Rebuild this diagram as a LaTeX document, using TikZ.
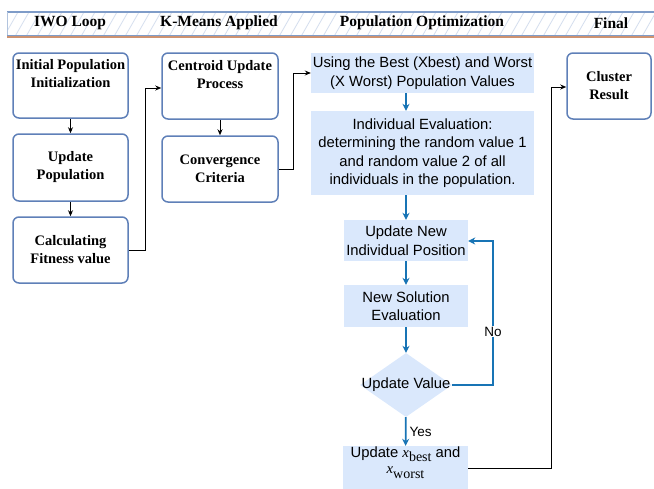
\documentclass[tikz,border=0pt]{standalone}
\usepackage{fontspec}
\setmainfont{Liberation Serif}
\setsansfont{Liberation Sans}
\usetikzlibrary{arrows.meta,shapes.geometric}
\definecolor{hdrblue}{RGB}{127,156,200}
\definecolor{hatchc}{RGB}{212,222,238}
\definecolor{hdrorange}{RGB}{190,110,65}
\definecolor{rborder}{RGB}{95,128,184}
\definecolor{lfill}{RGB}{218,232,252}
\definecolor{ablue}{RGB}{24,116,181}
\newcommand{\xsub}[1]{{\rmfamily\itshape x}\raisebox{-4.5pt}{\rmfamily\fontsize{14}{14}\selectfont #1}}
\tikzset{
  rbox/.style={draw=rborder, line width=1.5pt, rounded corners=6pt, fill=white,
    minimum width=115pt, align=center, inner sep=0pt,
    font=\fontsize{14.5}{18}\selectfont\bfseries},
  lbox/.style={fill=lfill, align=center, inner sep=0pt,
    font=\sffamily\fontsize{14.8}{18.5}\selectfont},
  hdr/.style={font=\fontsize{15.5}{18}\selectfont\bfseries, inner sep=0pt},
  karr/.style={draw=black, line width=0.9pt, -{Stealth[length=6pt,width=5pt]}},
  barr/.style={draw=ablue, line width=1.8pt, -{Stealth[length=7pt,width=7pt]}},
  lbl/.style={font=\sffamily\fontsize{13.5}{15}\selectfont, inner sep=1pt}
}
\begin{document}
\begin{tikzpicture}[x=1pt,y=-1pt]
\useasboundingbox (0,0) rectangle (654,488);
% header band
\begin{scope}
\clip (7,12) rectangle (654,35);
\fill[white] (7,12) rectangle (654,35);
\foreach \i in {-20,-9,...,680} \draw[hatchc, line width=0.8pt] (\i,40) -- (\i+20,5);
\end{scope}
\draw[hdrorange!75, line width=1.6pt] (7,36.8) -- (654,36.8);
\draw[hdrblue, line width=1.6pt] (7,12) -- (654,12);
\draw[hdrblue, line width=0.8pt] (7,35) -- (654,35);
\draw[hdrblue!60, line width=0.8pt] (7,12) -- (7,35);
\node[hdr] (h1) at (70,23) {IWO Loop};
\node[hdr] (h2) at (219,23) {K-Means Applied};
\node[hdr] (h3) at (422,23) {Population Optimization};
\node[hdr] (h4) at (611,23) {Final};
% IWO column
\node[rbox, minimum height=65pt] (init) at (70.5,85.5) {Initial Population\\Initialization\\\strut};
\node[rbox, minimum height=67pt] (upd) at (70.5,167.5) {Update\\Population};
\node[rbox, minimum height=66pt] (calc) at (70.5,250) {Calculating\\Fitness value};
% K-means column
\node[rbox, minimum width=116pt, minimum height=66pt] (cent) at (220,86) {Centroid Update\\Process\\\strut};
\node[rbox, minimum width=116pt, minimum height=66pt] (conv) at (220,169) {Convergence\\Criteria};
% Population optimization column
\node[lbox, minimum width=223pt, minimum height=40pt] (using) at (422.5,73) {Using the Best (Xbest) and Worst\\(X Worst) Population Values};
\node[lbox, minimum width=223pt, minimum height=84pt] (indiv) at (422.5,153) {Individual Evaluation:\\determining the random value 1\\and random value 2 of all\\individuals in the population.};
\node[lbox, minimum width=124pt, minimum height=41pt] (unew) at (406,240.5) {Update New\\Individual Position};
\node[lbox, minimum width=124pt, minimum height=42pt] (nsol) at (406,306) {New Solution\\Evaluation};
\node[diamond, fill=lfill, minimum width=92pt, minimum height=64pt, inner sep=0pt] (dia) at (406,385) {};
\node[lbox, fill=none] (diat) at (406,385) {Update Value};
\node[lbox, minimum width=125pt, minimum height=43pt] (upbest) at (405.5,467.5) {Update \xsub{best} and\\[-2pt]\xsub{worst}\\[-4pt]};
% Final
\node[rbox, minimum width=84pt, minimum height=66pt] (clus) at (609,86) {Cluster\\Result};
% black connectors
\draw[karr] (init) -- (upd);
\draw[karr] (upd) -- (calc);
\draw[karr] (cent) -- (conv);
\coordinate (c1) at (145,250);
\coordinate (c2) at (145,88);
\draw[karr] (calc.east) -- (c1) -- (c2) -- (cent.west |- c2);
\coordinate (d1) at (293,169);
\coordinate (d2) at (293,73);
\draw[karr] (conv.east) -- (d1) -- (d2) -- (using.west);
\coordinate (e1) at (551,468);
\coordinate (e2) at (551,87);
\draw[karr] (upbest.east |- e1) -- (e1) -- (e2) -- (clus.west |- e2);
% blue connectors
\draw[barr] (using.south -| unew) -- (indiv.north -| unew);
\draw[barr] (indiv.south -| unew) -- (unew);
\draw[barr] (unew) -- (nsol);
\draw[barr] (nsol) -- (dia);
\draw[barr] (dia) -- node[lbl, right, xshift=2pt] (yes) {Yes} (upbest);
\coordinate (f1) at (493,385);
\coordinate (f2) at (493,241);
\draw[barr] (dia.east) -- (f1) -- node[lbl, fill=white, pos=0.37] (no) {No} (f2) -- (unew.east |- f2);
\end{tikzpicture}
\end{document}
